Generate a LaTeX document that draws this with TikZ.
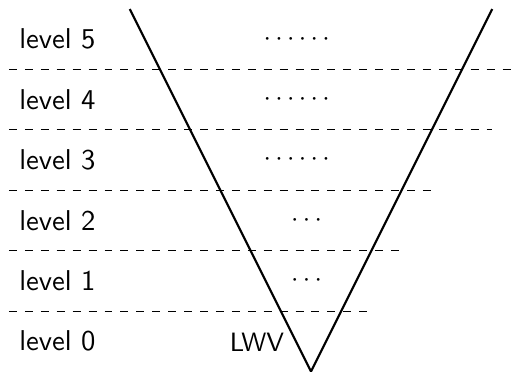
\documentclass[tikz,border=0pt]{standalone}
\usepackage{xcolor}
\usepackage{amsmath}
\usepackage{tikz}
\renewcommand{\familydefault}{\sfdefault}

\begin{document}
\begin{tikzpicture}[levellabel/.style={anchor=west,inner sep=0pt,font=\fontsize{10.8}{13}\selectfont},
  dotslabel/.style={inner sep=0pt},
  levelline/.style={dashed,line width=0.4pt},
  vline/.style={line width=0.8pt}]
\useasboundingbox (-4.119,-0.007) rectangle (2.755,4.92);

%Shape: V [tip at the bottom]
\coordinate (vleft) at (-2.4,4.8);
\coordinate (vtip) at (0,0);
\coordinate (vright) at (2.4,4.8);
\draw [vline] (vleft) -- (vtip) -- (vright);

%Straight Lines [level borders]
\draw [levelline] (-4,0.8) -- (0.8,0.8);
\draw [levelline] (-4,1.6) -- (1.2,1.6);
\draw [levelline] (-4,2.4) -- (1.6,2.4);
\draw [levelline] (-4,3.2) -- (2.4,3.2);
\draw [levelline] (-4,4.0) -- (2.7,4.0);

% Text Node
\node [levellabel] (lvl0) at (-3.87,0.4) {level 0};
% Text Node
\node [levellabel] (lvl1) at (-3.87,1.2) {level 1};
% Text Node
\node [levellabel] (lvl2) at (-3.87,2.0) {level 2};
% Text Node
\node [levellabel] (lvl3) at (-3.87,2.8) {level 3};
% Text Node
\node [levellabel] (lvl4) at (-3.87,3.6) {level 4};
% Text Node
\node [levellabel] (lvl5) at (-3.87,4.4) {level 5};

% Text Node
\node [dotslabel] (dots1) at (-0.03,1.2) {$\cdots$};
% Text Node
\node [dotslabel] (dots2) at (-0.03,2.0) {$\cdots$};
% Text Node
\node [dotslabel] (dots3) at (-0.16,2.8) {$\cdots\cdots$};
% Text Node
\node [dotslabel] (dots4) at (-0.16,3.6) {$\cdots\cdots$};
% Text Node
\node [dotslabel] (dots5) at (-0.16,4.4) {$\cdots\cdots$};

% Text Node
\node [anchor=east,inner sep=0pt] (lwv) at (-0.35,0.38) {LWV};

\end{tikzpicture}
\end{document}
